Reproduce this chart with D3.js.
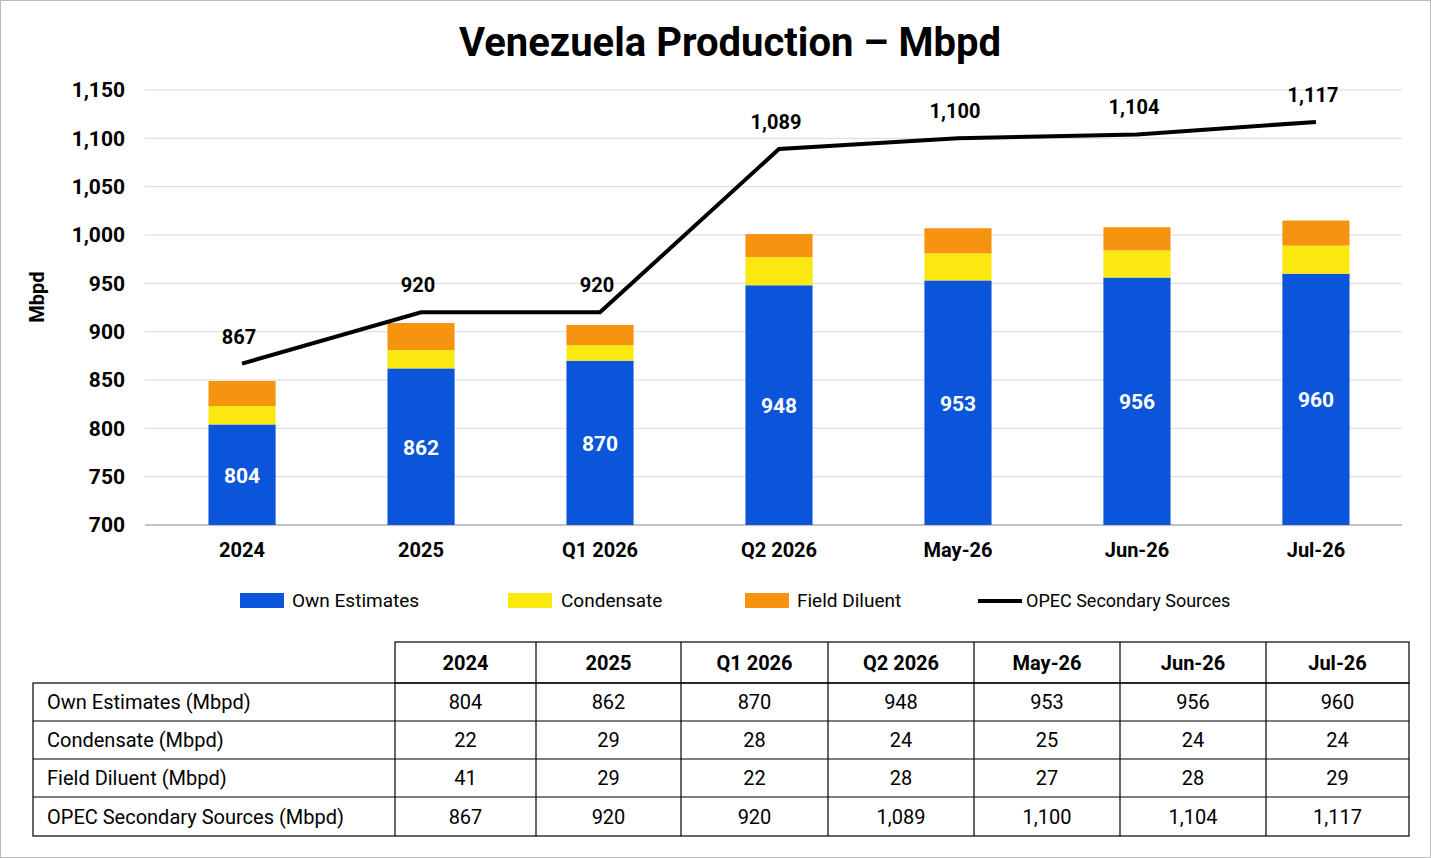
<!DOCTYPE html>
<html><head><meta charset="utf-8">
<script src="https://cdn.jsdelivr.net/npm/d3@7"></script>
<style>body{margin:0;background:#fff}text{font-family:Roboto,"Liberation Sans",sans-serif}</style>
</head><body><svg id="c" width="1431" height="858"></svg>
<script>
const categories=["2024","2025","Q1 2026","Q2 2026","May-26","Jun-26","Jul-26"];
const ownEst=[804,862,870,948,953,956,960];
// stacked segments as drawn in the chart
const condBar=[19,19,16,29,28,28,29];
const dilBar=[26,28,21,24,26,24,26];
const opec=[867,920,920,1089,1100,1104,1117];
const opecLabels=["867","920","920","1,089","1,100","1,104","1,117"];
const condTable=[22,29,28,24,25,24,24];
const dilTable=[41,29,22,28,27,28,29];
const yTicks=[700,750,800,850,900,950,1000,1050,1100,1150];

const svg=d3.select("#c");
svg.append("rect").attr("x",0.5).attr("y",0.5).attr("width",1430).attr("height",857).attr("fill","#fff").attr("stroke","#bbb");
svg.append("text").attr("x",730).attr("y",56).attr("text-anchor","middle").attr("font-size",40).attr("font-weight","bold").text("Venezuela Production – Mbpd");

const x=d3.scaleBand().domain(categories).range([153,1405]).paddingInner(0.625).paddingOuter(0.31);
const y=d3.scaleLinear().domain([700,1150]).range([525,90]);
const g=svg.append("g");
g.selectAll(".gl").data(yTicks).join("line").attr("x1",145).attr("x2",1402).attr("y1",d=>y(d)).attr("y2",d=>y(d)).attr("stroke","#d9d9d9");
g.append("line").attr("x1",145).attr("x2",1402).attr("y1",525).attr("y2",525).attr("stroke","#999");
const ya=g.append("g").attr("transform","translate(125,0)").call(d3.axisLeft(y).tickValues(yTicks).tickSize(0).tickPadding(0));
ya.select(".domain").remove();
ya.selectAll("text").attr("font-size",21).attr("font-weight","bold").attr("fill","#000");
svg.append("text").attr("transform","translate(44,297) rotate(-90)").attr("text-anchor","middle").attr("font-size",20).attr("font-weight","bold").text("Mbpd");
const xa=g.append("g").attr("transform","translate(0,525)").call(d3.axisBottom(x).tickSize(0).tickPadding(18));
xa.select(".domain").remove();
xa.selectAll("text").attr("font-size",20).attr("font-weight","bold").attr("fill","#000");

categories.forEach((c,i)=>{
  const b=ownEst[i],cTop=b+condBar[i],dTop=cTop+dilBar[i];
  g.append("rect").attr("x",x(c)).attr("width",x.bandwidth()).attr("y",y(b)).attr("height",y(700)-y(b)).attr("fill","#0a55d9");
  g.append("rect").attr("x",x(c)).attr("width",x.bandwidth()).attr("y",y(cTop)).attr("height",y(b)-y(cTop)).attr("fill","#fbe811");
  g.append("rect").attr("x",x(c)).attr("width",x.bandwidth()).attr("y",y(dTop)).attr("height",y(cTop)-y(dTop)).attr("fill","#f7940f");
  g.append("text").attr("x",x(c)+x.bandwidth()/2).attr("y",(y(b)+y(700))/2+8).attr("text-anchor","middle").attr("fill","#fff").attr("font-size",21).attr("font-weight","bold").text(b);
});
const cx=c=>x(c)+x.bandwidth()/2;
g.append("path").attr("d",d3.line().x((d,i)=>cx(categories[i])).y(d=>y(d))(opec)).attr("fill","none").attr("stroke","#000").attr("stroke-width",4);
opec.forEach((v,i)=>g.append("text").attr("x",cx(categories[i])-3).attr("y",y(v)-20).attr("text-anchor","middle").attr("font-size",20).attr("font-weight","bold").text(opecLabels[i]));

// legend
const leg=[["Own Estimates","#0a55d9",240,292],["Condensate","#fbe811",508,561],["Field Diluent","#f7940f",745,797]];
leg.forEach(l=>{svg.append("rect").attr("x",l[2]).attr("y",593).attr("width",44).attr("height",15).attr("fill",l[1]);
 svg.append("text").attr("x",l[3]).attr("y",607).attr("font-size",19).text(l[0]);});
svg.append("line").attr("x1",978).attr("x2",1022).attr("y1",601).attr("y2",601).attr("stroke","#000").attr("stroke-width",4);
svg.append("text").attr("x",1026).attr("y",607).attr("font-size",18).text("OPEC Secondary Sources");

// table
const colX=[33,395,536,681,828,974,1120,1266,1409];
const rowY=[642,683,721,759,797,836];
const rowNames=["Own Estimates (Mbpd)","Condensate (Mbpd)","Field Diluent (Mbpd)","OPEC Secondary Sources (Mbpd)"];
const rows=[ownEst.map(String),condTable.map(String),dilTable.map(String),opecLabels];
const t=svg.append("g").attr("stroke","#000").attr("stroke-width",1.2);
t.append("rect").attr("x",395).attr("y",642).attr("width",1014).attr("height",41).attr("fill","none");
t.append("rect").attr("x",33).attr("y",683).attr("width",1376).attr("height",153).attr("fill","none");
colX.slice(2,8).forEach(cx0=>t.append("line").attr("x1",cx0).attr("x2",cx0).attr("y1",642).attr("y2",836));
t.append("line").attr("x1",395).attr("x2",395).attr("y1",683).attr("y2",836);
rowY.slice(2,5).forEach(ry=>t.append("line").attr("x1",33).attr("x2",1409).attr("y1",ry).attr("y2",ry));
categories.forEach((c,j)=>svg.append("text").attr("x",(colX[j+1]+colX[j+2])/2).attr("y",670).attr("text-anchor","middle").attr("font-size",20).attr("font-weight","bold").text(c));
rows.forEach((r,i)=>{
  const ty=(rowY[i+1]+rowY[i+2])/2+7;
  svg.append("text").attr("x",47).attr("y",ty).attr("font-size",20).text(rowNames[i]);
  r.forEach((v,j)=>svg.append("text").attr("x",(colX[j+1]+colX[j+2])/2).attr("y",ty).attr("text-anchor","middle").attr("font-size",20).text(v));
});
</script></body></html>
